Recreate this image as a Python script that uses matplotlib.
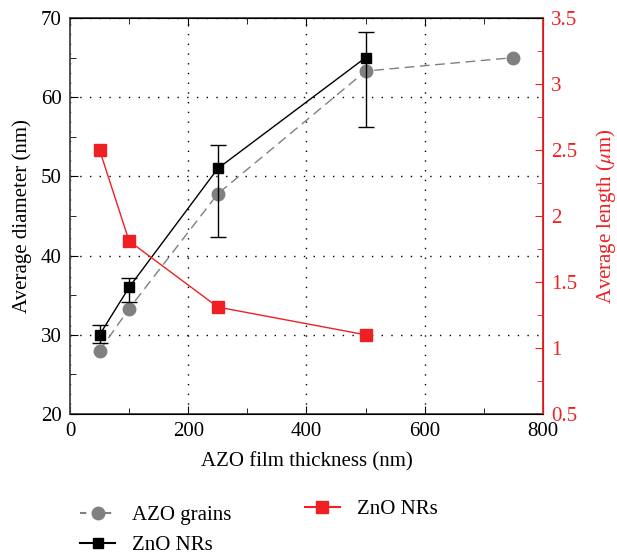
import matplotlib.pyplot as plt
from matplotlib.ticker import MultipleLocator
from matplotlib.lines import Line2D

plt.rcParams['font.family'] = ['Liberation Serif', 'DejaVu Serif']
plt.rcParams['mathtext.fontset'] = 'stix'

# data
grain_x = [50, 100, 250, 500, 750]
grain_d = [28, 33.3, 47.8, 63.3, 65]

nr_x = [50, 100, 250, 500]
nr_d = [30, 36, 51, 65]
nr_err_low = [1.0, 1.8, 8.7, 8.8]
nr_err_high = [1.2, 1.2, 3.0, 3.2]

len_x = [50, 100, 250, 500]
nr_len = [2.5, 1.81, 1.31, 1.1]

red = '#ee2024'
fs = 15

fig = plt.figure(figsize=(6.17, 5.56), dpi=100)
ax = fig.add_axes([0.1135, 0.2554, 0.7665, 0.7122])
ax2 = ax.twinx()

ax.plot(grain_x, grain_d, color='gray', linestyle=(0, (7, 4)), linewidth=1,
        marker='o', markersize=9, markeredgecolor='gray', zorder=3)
ax.errorbar(nr_x, nr_d, yerr=[nr_err_low, nr_err_high], color='black',
            linewidth=1, marker='s', markersize=7, capsize=6, elinewidth=1,
            capthick=1, zorder=4)
ax2.plot(len_x, nr_len, color=red, linewidth=1, marker='s', markersize=8)

ax.set_xlim(0, 800)
ax.set_ylim(20, 70)
ax2.set_ylim(0.5, 3.5)

ax.xaxis.set_major_locator(MultipleLocator(200))
ax.xaxis.set_minor_locator(MultipleLocator(100))
ax.yaxis.set_major_locator(MultipleLocator(10))
ax.yaxis.set_minor_locator(MultipleLocator(5))
ax2.yaxis.set_minor_locator(MultipleLocator(0.25))
ax2.set_yticks([0.5, 1, 1.5, 2, 2.5, 3, 3.5])
ax2.set_yticklabels(['0.5', '1', '1.5', '2', '2.5', '3', '3.5'])

ax.grid(True, which='major', color='black', linestyle=(0, (1, 6)), linewidth=1)
ax.tick_params(which='both', direction='in', top=True, right=False, labelsize=fs, pad=6)
ax.tick_params(which='major', length=6)
ax.tick_params(which='minor', length=4)
ax2.tick_params(which='both', direction='in', colors=red, labelsize=fs, pad=6)
ax2.tick_params(which='major', length=6)
ax2.tick_params(which='minor', length=4)

for s in ['left', 'bottom', 'top']:
    ax.spines[s].set_color('#444444')
    ax.spines[s].set_linewidth(1.3)
ax2.spines['right'].set_color(red)
ax2.spines['right'].set_linewidth(1.3)
ax2.spines['left'].set_visible(False)

ax.set_xlabel('AZO film thickness (nm)', fontsize=fs, labelpad=8)
ax.set_ylabel('Average diameter (nm)', fontsize=fs, labelpad=6)
ax2.set_ylabel(r'Average length ($\mu$m)', fontsize=fs, color=red, labelpad=12)

h1 = [Line2D([], [], color='gray', linestyle=(0, (3, 3)), marker='o', markersize=9),
      Line2D([], [], color='black', marker='s', markersize=7)]
fig.legend(h1, ['AZO grains', 'ZnO NRs'], loc='upper left',
           bbox_to_anchor=(0.099, 0.125), frameon=False, fontsize=fs,
           handlelength=1.7, labelspacing=0.5)
h2 = [Line2D([], [], color=red, marker='s', markersize=8)]
fig.legend(h2, ['ZnO NRs'], loc='upper left', bbox_to_anchor=(0.4635, 0.135),
           frameon=False, fontsize=fs, handlelength=1.7)

fig.savefig('out.png', dpi=100, facecolor='white')
